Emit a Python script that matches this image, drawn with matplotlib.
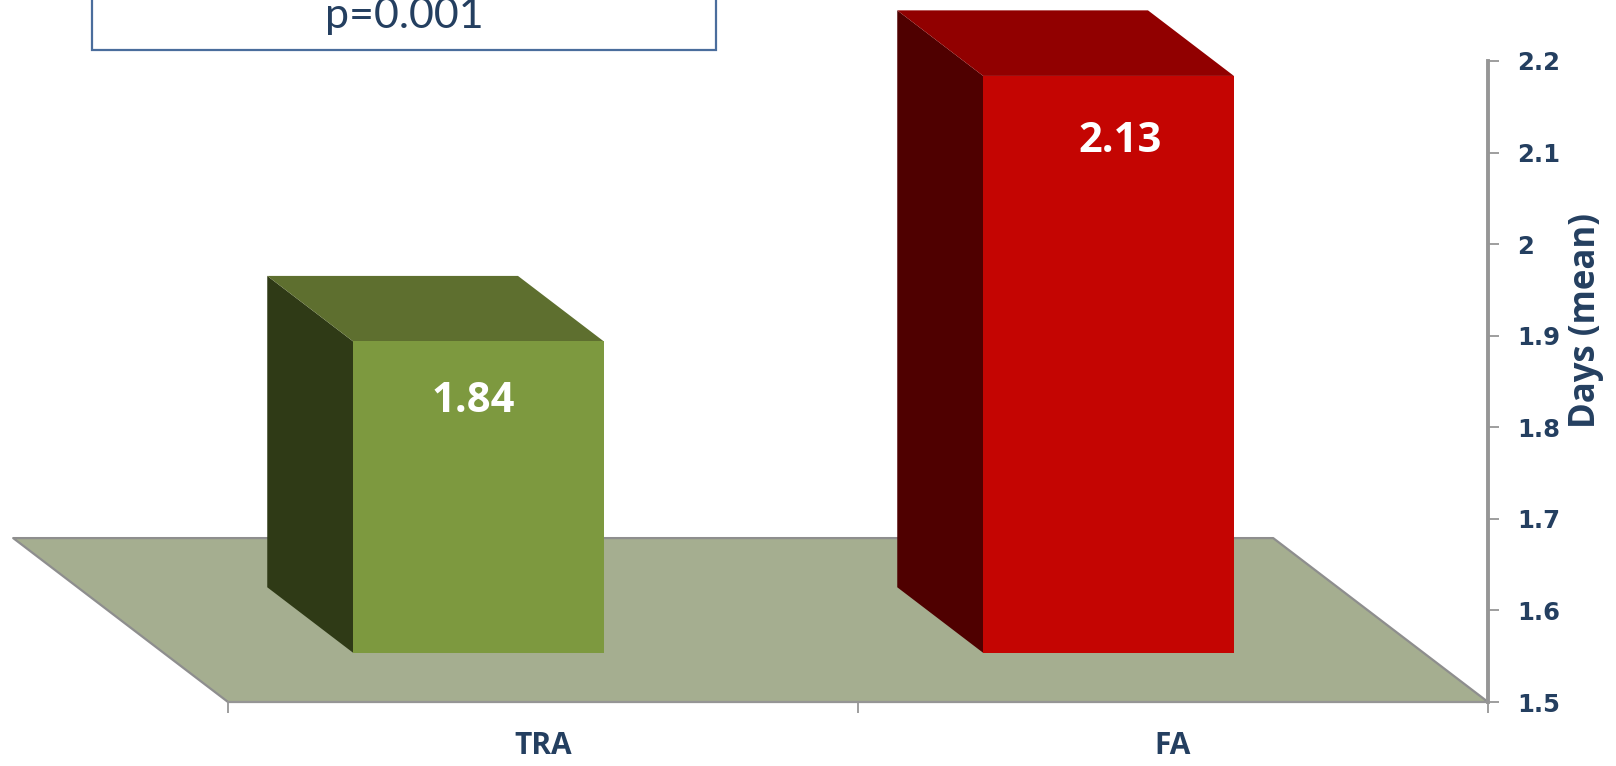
"""Days (mean) for TRA vs FA - Excel style 3D columns on a floor, drawn as oblique polygons."""
import matplotlib
matplotlib.use("Agg")                                  # save plots without a display
import matplotlib.pyplot as plt
from matplotlib.patches import Rectangle

categories = ["TRA", "FA"]
days_mean = [1.84, 2.13]
face_colors = ["#7d993f", "#c40502"]
side_colors = ["#2f3a16", "#4f0000"]
top_colors = ["#5e6f2f", "#910000"]
label_offsets = [(-4, -43), (8.5, -47)]                # points, from the front top edge
y_ticks = [1.5, 1.6, 1.7, 1.8, 1.9, 2.0, 2.1, 2.2]
y_tick_labels = ["1.5", "1.6", "1.7", "1.8", "1.9", "2", "2.1", "2.2"]

NAVY = "#243f60"
GRAY = "#969696"
W, H = 1616, 766
LEFT, RIGHT, TOP, BOTTOM = 228, 1488, 61, 702          # plot area, pixels

DEPTH_X, DEPTH_Y = 0.341, 0.179                        # floor shear, data units per unit depth
BAR_WIDTH = 0.398
BAR_FRONT, BAR_BACK = 0.30, 0.70
BASE = y_ticks[0]


def proj(x, y, depth):
    """Oblique projection: going back moves left and up."""
    return x - depth * DEPTH_X, y + depth * DEPTH_Y


def poly(ax, corners, color, z, **kw):
    xs, ys = zip(*[proj(*c) for c in corners])
    kw.setdefault("linewidth", 0)
    ax.fill(xs, ys, facecolor=color, clip_on=False, zorder=z, **kw)


plt.rcParams["font.family"] = ["Lato", "DejaVu Sans"]
fig = plt.figure(figsize=(W / 100, H / 100), dpi=100)
ax = fig.add_axes([LEFT / W, 1 - BOTTOM / H, (RIGHT - LEFT) / W, (BOTTOM - TOP) / H])
ax.set_xlim(0, len(categories))
ax.set_ylim(BASE, y_ticks[-1])
ax.patch.set_visible(False)

# floor
poly(ax, [(0, BASE, 0), (2, BASE, 0), (2, BASE, 1), (0, BASE, 1)], "#a5ae90", 1,
     edgecolor="#8e8e8e", linewidth=1.6, joinstyle="round")

# bars
for i, (val, c_face, c_side, c_top) in enumerate(zip(days_mean, face_colors, side_colors, top_colors)):
    x0 = i + 0.5 - BAR_WIDTH / 2
    x1 = i + 0.5 + BAR_WIDTH / 2
    poly(ax, [(x0, BASE, BAR_FRONT), (x0, BASE, BAR_BACK), (x0, val, BAR_BACK), (x0, val, BAR_FRONT)], c_side, 3)
    poly(ax, [(x0, val, BAR_FRONT), (x1, val, BAR_FRONT), (x1, val, BAR_BACK), (x0, val, BAR_BACK)], c_top, 3)
    poly(ax, [(x0, BASE, BAR_FRONT), (x1, BASE, BAR_FRONT), (x1, val, BAR_FRONT), (x0, val, BAR_FRONT)], c_face, 4)
    lx, ly = proj(i + 0.5, val, BAR_FRONT)
    ax.annotate(f"{val:.2f}", (lx, ly), xytext=label_offsets[i], textcoords="offset points",
                ha="center", va="center", color="white", fontsize=30, fontweight="bold",
                family="Open Sans", zorder=5)

# axes
for side in ("top", "left"):
    ax.spines[side].set_visible(False)
ax.spines["right"].set_color(GRAY)
ax.spines["right"].set_linewidth(2.8)
ax.spines["bottom"].set_color(GRAY)
ax.spines["bottom"].set_linewidth(1.4)
ax.spines["right"].set_zorder(2)
ax.spines["bottom"].set_zorder(2)

ax.yaxis.tick_right()
ax.set_yticks(y_ticks, y_tick_labels)
ax.tick_params(axis="y", length=8, width=1.3, color=GRAY, pad=13, labelcolor=NAVY, labelsize=17.5)
for lab in ax.get_yticklabels():
    lab.set_family("DejaVu Sans")
    lab.set_fontweight("bold")

ax.set_xticks(range(len(categories) + 1), [""] * (len(categories) + 1))
ax.set_xticks([i + 0.5 for i in range(len(categories))], categories, minor=True)
ax.tick_params(axis="x", which="major", length=8, width=1.3, color=GRAY)
ax.tick_params(axis="x", which="minor", length=0, pad=21, labelcolor=NAVY, labelsize=21.5)
for lab in ax.get_xticklabels(minor=True):
    lab.set_family("Open Sans")
    lab.set_fontweight("bold")

fig.text(1586 / W, 1 - 321 / H, "Days (mean)", rotation=90, ha="center", va="center",
         color=NAVY, fontsize=25, fontweight="bold", family="Open Sans")

# stats box, cut off by the top edge
fig.add_artist(Rectangle((92 / W, 1 - 50 / H), (716 - 92) / W, 100 / H, transform=fig.transFigure,
                         facecolor="white", edgecolor="#4a6d9c", linewidth=1.6))
fig.text(404 / W, 1 - 28 / H, "p=0.001", ha="center", va="baseline", color=NAVY, fontsize=31)

fig.savefig("out.png", dpi=100)
